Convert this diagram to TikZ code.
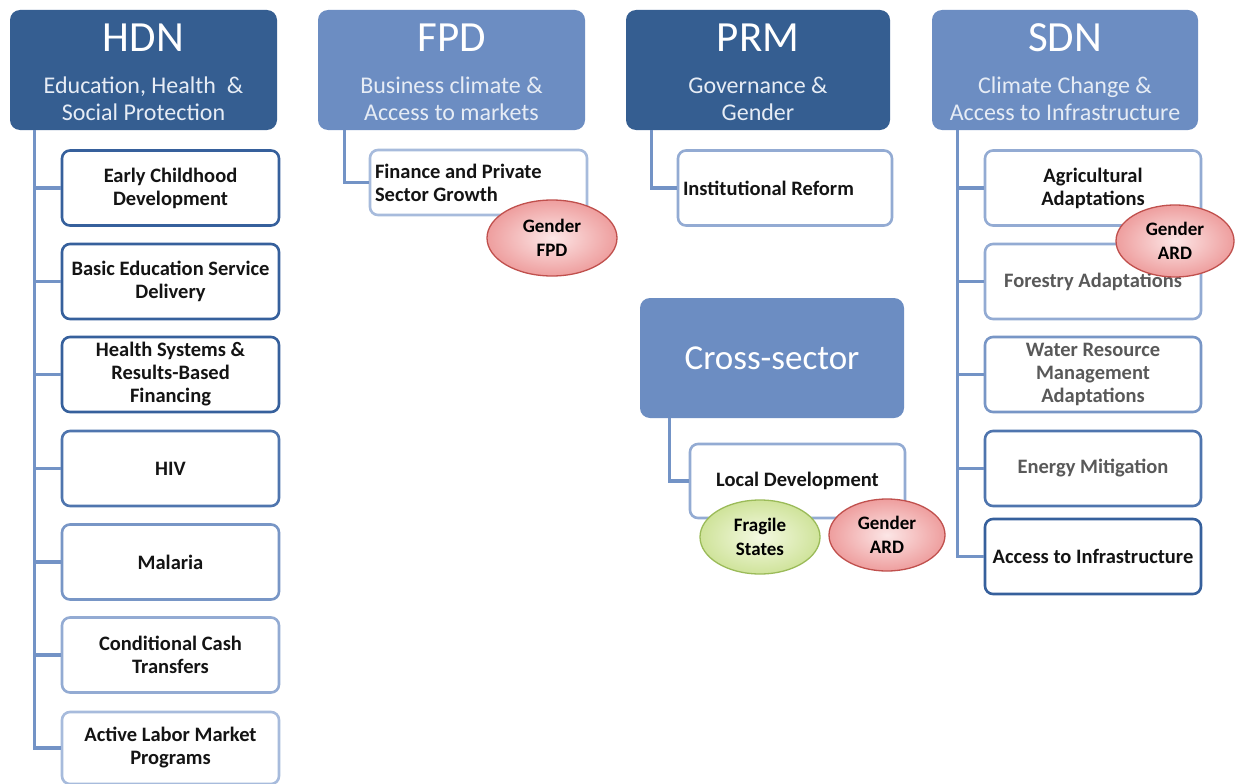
\documentclass[tikz,border=0pt]{standalone}
\usepackage{fontspec}
\setmainfont{Carlito}
\usetikzlibrary{shapes.geometric}
\definecolor{hdark}{HTML}{355E91}
\definecolor{hlight}{HTML}{6C8DC2}
\definecolor{subtxt}{HTML}{E6ECF5}
\definecolor{conncol}{HTML}{7393C6}
\definecolor{bA}{HTML}{36609C}
\definecolor{bB}{HTML}{4F75AE}
\definecolor{bC}{HTML}{7896C6}
\definecolor{bD}{HTML}{93ABD3}
\definecolor{bE}{HTML}{A7BBDC}
\definecolor{graytxt}{HTML}{595959}
\definecolor{pinkin}{HTML}{FCE6E6}
\definecolor{pinkout}{HTML}{EE9E9E}
\definecolor{pinkbd}{HTML}{C0504D}
\definecolor{greenin}{HTML}{F4F9E2}
\definecolor{greenout}{HTML}{CFE39A}
\definecolor{greenbd}{HTML}{9BBB59}
\tikzset{
  hdrbox/.style={draw=none, rounded corners=10pt, minimum width=267pt, minimum height=120pt, inner sep=0pt},
  hdrtitle/.style={text=white, font=\fontsize{43}{43}\selectfont, inner sep=0pt},
  hdrsub/.style={text=subtxt, font=\fontsize{24}{27}\selectfont, align=center, inner sep=0pt},
  child/.style={draw=#1, line width=2.6pt, rounded corners=8pt, fill=white, minimum width=217pt, minimum height=75pt, align=center, font=\bfseries\fontsize{20.5}{23}\selectfont, text=black!92, inner sep=2pt},
  conn/.style={draw=conncol, line width=3.2pt},
  pinkell/.style={ellipse, draw=pinkbd, line width=1.3pt, inner color=pinkin, outer color=pinkout, minimum width=120pt, minimum height=74pt, inner sep=0pt, align=center, font=\bfseries\fontsize{19}{24}\selectfont},
  greenell/.style={ellipse, draw=greenbd, line width=1.3pt, inner color=greenin, outer color=greenout, minimum width=120pt, minimum height=74pt, inner sep=0pt, align=center, font=\bfseries\fontsize{19}{24}\selectfont},
}
\begin{document}
\begin{tikzpicture}[x=1pt,y=-1pt]
\useasboundingbox[fill=white] (0,0) rectangle (1239,784);

% ---------- headers ----------
\node[hdrbox, fill=hdark] (hdn) at (143.5,70) {};
\node[hdrtitle] (hdnT) at (143.5,38) {HDN};
\node[hdrsub] (hdnS) at (143.5,99) {Education, Health\ \ \&\\Social Protection};

\node[hdrbox, fill=hlight] (fpd) at (451.5,70) {};
\node[hdrtitle] (fpdT) at (451.5,38) {FPD};
\node[hdrsub] (fpdS) at (451.5,99) {Business climate \&\\Access to markets};

\node[hdrbox, fill=hdark, minimum width=264pt] (prm) at (758,70) {};
\node[hdrtitle] (prmT) at (758,38) {PRM};
\node[hdrsub] (prmS) at (758,99) {Governance \&\\Gender};

\node[hdrbox, fill=hlight, minimum width=266pt] (sdn) at (1065,70) {};
\node[hdrtitle] (sdnT) at (1065,38) {SDN};
\node[hdrsub] (sdnS) at (1065,99) {Climate Change \&\\Access to Infrastructure};

\node[hdrbox, fill=hlight, minimum width=264pt] (cross) at (772,358) {};
\node[hdrtitle, font=\fontsize{35}{35}\selectfont] (crossT) at (772,358) {Cross-sector};

% ---------- HDN children ----------
\node[child=bA] (h1) at (170.5,188) {Early Childhood\\Development};
\node[child=bA] (h2) at (170.5,281.5) {Basic Education Service\\Delivery};
\node[child=bA] (h3) at (170.5,374.5) {Health Systems \&\\Results-Based\\Financing};
\node[child=bB] (h4) at (170.5,468.5) {HIV};
\node[child=bC] (h5) at (170.5,562) {Malaria};
\node[child=bD] (h6) at (170.5,655) {Conditional Cash\\Transfers};
\node[child=bE, minimum height=72pt] (h7) at (170.5,748) {Active Labor Market\\Programs};

\coordinate (hdnTr) at ([xshift=25pt]hdn.south west);
\draw[conn] (hdnTr) |- (h7.west);
\foreach \i in {1,...,6} { \draw[conn] (h\i.west) -- (h\i.west -| hdnTr); }

% ---------- FPD child ----------
\node[child=bE, minimum height=65pt, text width=207pt, align=flush left, inner xsep=5pt] (f1) at (478.5,182.5) {Finance and Private\\Sector Growth};
\coordinate (fpdTr) at ([xshift=27pt]fpd.south west);
\draw[conn] (fpdTr) |- (f1.west);
\node[pinkell, minimum width=130pt, minimum height=76pt] (gfpd) at (552,238) {Gender\\FPD};

% ---------- PRM child ----------
\node[child=bD, minimum width=214pt, text width=204pt, align=flush left, inner xsep=5pt] (p1) at (785,188) {Institutional Reform};
\coordinate (prmTr) at ([xshift=26pt]prm.south west);
\draw[conn] (prmTr) |- (p1.west);

% ---------- SDN children ----------
\node[child=bD, minimum width=216pt] (s1) at (1093,188) {Agricultural\\Adaptations};
\node[child=bD, minimum width=216pt, text=graytxt] (s2) at (1093,281.5) {Forestry Adaptations};
\node[child=bC, minimum width=216pt, text=graytxt] (s3) at (1093,374.5) {Water Resource\\Management\\Adaptations};
\node[child=bB, minimum width=216pt, text=graytxt] (s4) at (1093,468.5) {Energy Mitigation};
\node[child=bA, minimum width=216pt] (s5) at (1093,556.5) {Access to Infrastructure};
\coordinate (sdnTr) at ([xshift=26pt]sdn.south west);
\draw[conn] (sdnTr) |- (s5.west);
\foreach \i in {1,...,4} { \draw[conn] (s\i.west) -- (s\i.west -| sdnTr); }
\node[pinkell, minimum width=118pt, minimum height=72pt] (gard1) at (1175,241) {Gender\\ARD};

% ---------- Cross-sector child ----------
\node[child=bD, minimum width=215pt, minimum height=74pt] (c1) at (797.5,481) {Local Development};
\coordinate (crossTr) at ([xshift=30pt]cross.south west);
\draw[conn] (crossTr) |- (c1.west);
\node[greenell] (frag) at (760,537) {Fragile\\States};
\node[pinkell, minimum width=116pt, minimum height=72pt] (gard2) at (887,535) {Gender\\ARD};
\end{tikzpicture}
\end{document}
